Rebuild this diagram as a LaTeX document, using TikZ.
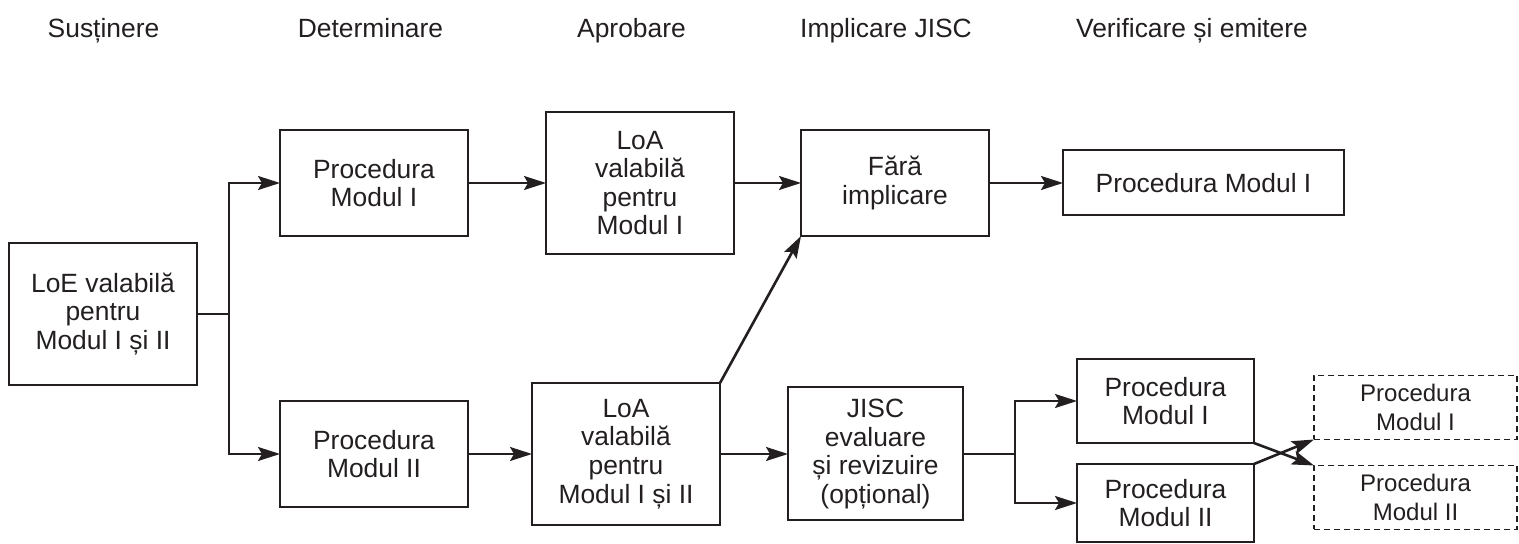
\documentclass[tikz,border=0pt]{standalone}
\usepackage{fontspec}
\setmainfont{Liberation Sans}
\usepackage{tikz}
\usetikzlibrary{positioning,arrows.meta}
\definecolor{ink}{RGB}{35,31,32}

\begin{document}
\begin{tikzpicture}[
	>={Stealth[length=11pt,width=7pt,inset=2pt]},
	box/.style={draw=ink,text=ink,line width=1pt,align=center,inner sep=0pt,outer sep=0pt,
		minimum width=94pt,minimum height=53pt,font=\fontsize{13.2}{14.3}\selectfont},
	tallbox/.style={box,minimum height=71pt},
	dbox/.style={box,line width=0.7pt,dash pattern=on 3pt off 2pt,
		minimum width=101.5pt,minimum height=32pt,font=\fontsize{12}{14.2}\selectfont},
	phase/.style={text=ink,anchor=base,inner sep=0pt,font=\fontsize{13.2}{15}\selectfont},
	link/.style={draw=ink,line width=1pt,->},
	]
	\useasboundingbox (-51.5pt,-115pt) rectangle (708pt,157pt);

	% phases
	\node (hSus)[phase] at (0.25pt,138pt){Susținere};
	\node (hDet)[phase] at (133.75pt,138pt){Determinare};
	\node (hApr)[phase] at (264.25pt,138pt){Aprobare};
	\node (hImp)[phase] at (391.5pt,138pt){Implicare JISC};
	\node (hVer)[phase] at (544.5pt,138pt){Verificare și emitere};

	\node (loe)[tallbox]{LoE valabilă\\pentru\\Modul I și II};

	\node (procI)[box,above right=3.5pt and 41.5pt of loe]{Procedura\\Modul I};
	\node (procII)[box,below right=8pt and 41.5pt of loe]{Procedura\\Modul II};

	\node (loaI)[tallbox,right=39pt of procI]{LoA\\valabilă\\pentru\\Modul I};
	\node (loaII)[tallbox,right=32pt of procII]{LoA\\valabilă\\pentru\\Modul I și II};

	\node (fara)[box,right=33.5pt of loaI]{Fără\\implicare};
	\node (jisc)[box,minimum width=87.5pt,minimum height=66.5pt,right=34pt of loaII]{JISC\\evaluare\\și revizuire\\(opțional)};

	\node (finalI)[box,minimum width=140.5pt,minimum height=32.5pt,right=37pt of fara]{Procedura Modul I};

	\node (verI)[box,minimum width=88.5pt,minimum height=42pt,right=57pt of jisc,yshift=26.5pt]{Procedura\\Modul I};
	\node (verII)[box,minimum width=88.5pt,minimum height=39pt,below=10.5pt of verI]{Procedura\\Modul II};

	\node (optI)[dbox,right=30pt of verI,yshift=-3.25pt]{Procedura\\Modul I};
	\node (optII)[dbox,below=13pt of optI]{Procedura\\Modul II};

	% draw the connections
	\draw[link] (loe.east) -- ++(16pt,0) |- (procI.west);
	\draw[link] (loe.east) -- ++(16pt,0) |- (procII.west);
	\draw[link] (procI) -- (loaI);
	\draw[link] (procII) -- (loaII);
	\draw[link] (loaI) -- (fara);
	\draw[link] (fara) -- (finalI);
	\draw[link] (loaII) -- (jisc);
	\draw[link,line width=1.3pt] (loaII.north east) -- (fara.south west);
	\draw[link] (jisc.east) -- ++(26pt,0) |- (verI.west);
	\draw[link] (jisc.east) -- ++(26pt,0) |- (verII.west);
	\draw[link,line width=1.3pt] (verI.south east) -- (optII.north west);
	\draw[link,line width=1.3pt] (verII.north east) -- (optI.south west);

\end{tikzpicture}
\end{document}
